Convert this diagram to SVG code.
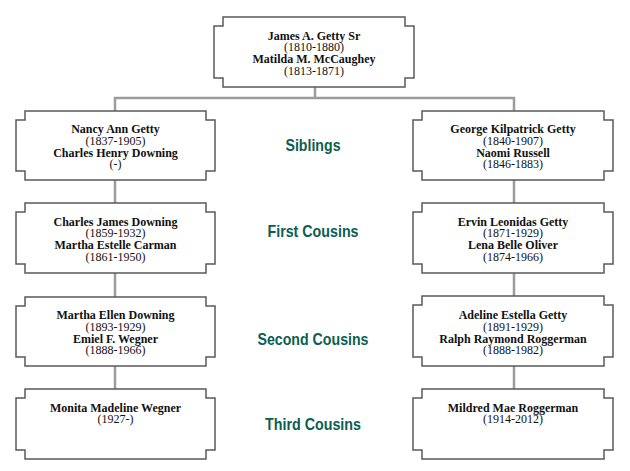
<svg xmlns="http://www.w3.org/2000/svg" width="630" height="471" viewBox="0 0 630 471">
<style>
.box{fill:#ffffff;stroke:#5a5a5a;stroke-width:1.5}
.con{fill:none;stroke:#9c9c9c;stroke-width:2.5}
.nm{font-family:"Liberation Serif","Times New Roman",serif;font-size:12px;font-weight:bold;fill:#111;text-anchor:middle}
.dt{font-family:"Liberation Serif","Times New Roman",serif;font-size:12px;fill:#111;text-anchor:middle}
.lbl{font-family:"Liberation Sans",Arial,sans-serif;font-size:17px;font-weight:bold;fill:#0b5e50;text-anchor:middle}
</style>
<rect x="0" y="0" width="630" height="471" fill="#ffffff"/>
<g id="connectors">
<path class="con" d="M315,87 V98 M115,111 V98 H514 V111"/>
<path class="con" d="M115,180 V203 M115,273 V297 M115,366 V389"/>
<path class="con" d="M514,180 V203 M514,273 V297 M514,366 V389"/>
</g>
<g id="n-james">
<path class="box" d="M223,17 H405 V26 H414 V78 H405 V87 H223 V78 H214 V26 H223 Z"/>
<text class="nm" x="314" y="39.5">James A. Getty Sr</text>
<text class="dt" x="314" y="51">(1810-1880)</text>
<text class="nm" x="314" y="63">Matilda M. McCaughey</text>
<text class="dt" x="314" y="74.5">(1813-1871)</text>
</g>
<g id="n-nancy">
<path class="box" d="M25,111 H206 V120 H215 V171 H206 V180 H25 V171 H16 V120 H25 Z"/>
<text class="nm" x="115.5" y="133">Nancy Ann Getty</text>
<text class="dt" x="115.5" y="144.5">(1837-1905)</text>
<text class="nm" x="115.5" y="156.5">Charles Henry Downing</text>
<text class="dt" x="115.5" y="168">(-)</text>
</g>
<g id="n-george">
<path class="box" d="M422,111 H604 V120 H613 V171 H604 V180 H422 V171 H413 V120 H422 Z"/>
<text class="nm" x="513" y="133">George Kilpatrick Getty</text>
<text class="dt" x="513" y="144.5">(1840-1907)</text>
<text class="nm" x="513" y="156.5">Naomi Russell</text>
<text class="dt" x="513" y="168">(1846-1883)</text>
</g>
<g id="n-charles">
<path class="box" d="M25,203 H206 V212 H215 V264 H206 V273 H25 V264 H16 V212 H25 Z"/>
<text class="nm" x="115.5" y="225.5">Charles James Downing</text>
<text class="dt" x="115.5" y="237">(1859-1932)</text>
<text class="nm" x="115.5" y="249">Martha Estelle Carman</text>
<text class="dt" x="115.5" y="260.5">(1861-1950)</text>
</g>
<g id="n-ervin">
<path class="box" d="M422,203 H604 V212 H613 V264 H604 V273 H422 V264 H413 V212 H422 Z"/>
<text class="nm" x="513" y="225.5">Ervin Leonidas Getty</text>
<text class="dt" x="513" y="237">(1871-1929)</text>
<text class="nm" x="513" y="249">Lena Belle Oliver</text>
<text class="dt" x="513" y="260.5">(1874-1966)</text>
</g>
<g id="n-martha">
<path class="box" d="M25,297 H206 V306 H215 V357 H206 V366 H25 V357 H16 V306 H25 Z"/>
<text class="nm" x="115.5" y="319">Martha Ellen Downing</text>
<text class="dt" x="115.5" y="330.5">(1893-1929)</text>
<text class="nm" x="115.5" y="342.5">Emiel F. Wegner</text>
<text class="dt" x="115.5" y="354">(1888-1966)</text>
</g>
<g id="n-adeline">
<path class="box" d="M422,296 H604 V305 H613 V357 H604 V366 H422 V357 H413 V305 H422 Z"/>
<text class="nm" x="513" y="319">Adeline Estella Getty</text>
<text class="dt" x="513" y="330.5">(1891-1929)</text>
<text class="nm" x="513" y="342.5">Ralph Raymond Roggerman</text>
<text class="dt" x="513" y="354">(1888-1982)</text>
</g>
<g id="n-monita">
<path class="box" d="M25,389 H206 V398 H215 V450 H206 V459 H25 V450 H16 V398 H25 Z"/>
<text class="nm" x="115.5" y="411.5">Monita Madeline Wegner</text>
<text class="dt" x="115.5" y="423">(1927-)</text>
</g>
<g id="n-mildred">
<path class="box" d="M422,389 H604 V398 H613 V450 H604 V459 H422 V450 H413 V398 H422 Z"/>
<text class="nm" x="513" y="411.5">Mildred Mae Roggerman</text>
<text class="dt" x="513" y="423">(1914-2012)</text>
</g>
<g id="labels">
<text class="lbl" x="313" y="151" textLength="55" lengthAdjust="spacingAndGlyphs">Siblings</text>
<text class="lbl" x="313" y="237" textLength="91" lengthAdjust="spacingAndGlyphs">First Cousins</text>
<text class="lbl" x="313" y="345" textLength="111" lengthAdjust="spacingAndGlyphs">Second Cousins</text>
<text class="lbl" x="313" y="430" textLength="96" lengthAdjust="spacingAndGlyphs">Third Cousins</text>
</g>
</svg>
